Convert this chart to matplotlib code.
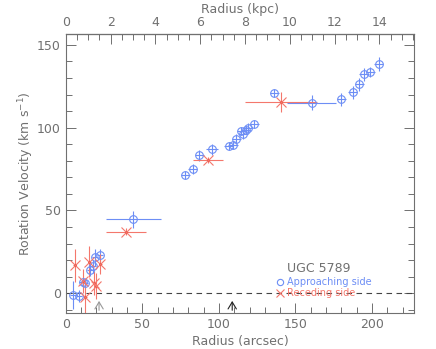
import numpy as np
import matplotlib.pyplot as plt
from matplotlib.ticker import MultipleLocator

# approaching side (blue circles)
r_app = [5.0, 8.7, 10.9, 12.4, 15.9, 17.8, 18.9, 22.2, 44.1,
         78.0, 83.0, 87.2, 95.3, 106.4, 109.2, 111.3, 114.6, 115.9, 117.4,
         118.9, 123.1, 136.3, 160.6, 180.1, 187.5, 191.6, 194.8, 198.8, 204.4]
v_app = [-1.2, -1.8, 6.8, 6.2, 14.3, 16.3, 21.6, 23.0, 44.6,
         71.6, 75.2, 83.3, 86.9, 89.1, 89.7, 93.3, 97.8, 96.0, 98.6,
         99.8, 102.2, 120.8, 115.1, 117.2, 121.4, 126.3, 132.3, 133.7, 138.5]
er_app = [2, 2, 2, 2, 2, 2, 2, 2, 18,
          3, 3, 3, 4, 3, 3, 3, 3, 3, 3,
          3, 3, 3, 16, 3, 3, 3, 3, 3, 3]
ev_app = [8.5, 3.5, 3, 3, 4, 4, 5, 4, 5,
          2.5, 3, 3.5, 3.5, 2.5, 2.5, 3, 2.5, 3, 2.5,
          3, 2.5, 2.5, 4.5, 4, 4, 4, 4, 3, 4.5]

# receding side (red crosses)
r_rec = [5.9, 10.9, 12.6, 15.2, 18.5, 19.6, 22.4, 39.1, 92.9, 140.5]
v_rec = [16.9, 7.4, -2.6, 19.0, 6.2, 4.2, 17.5, 37.1, 80.5, 115.3]
er_rec = [1, 1, 1, 1, 1, 1, 1, 13, 9.6, 23.4]
ev_rec = [10, 7, 10, 9.5, 7, 8, 6, 2, 2, 6]

# markers on the axis
arrow_r = [21.7, 108.7]
arrow_c = ['#999999', '#222222']

arcsec_per_kpc = 14.63
blue = '#6d8ef5'
red = '#f4776c'
grey = '#707070'

plt.rcParams['font.family'] = 'DejaVu Sans'
fig = plt.figure(figsize=(4.36, 3.49), dpi=100)
ax = fig.add_axes([0.151, 0.103, 0.799, 0.800])

ax.axhline(0, color='#444444', lw=0.8, ls=(0, (5, 4)))

ax.errorbar(r_app, v_app, xerr=er_app, yerr=ev_app, fmt='o', ms=5.5,
            mfc='none', mec=blue, mew=0.8, ecolor=blue, elinewidth=0.8,
            capsize=0)
ax.errorbar(r_rec, v_rec, xerr=er_rec, yerr=ev_rec, fmt='x', ms=7,
            mec=red, mew=0.8, ecolor=red, elinewidth=0.8, capsize=0)
ax.plot(r_rec, v_rec, '.', ms=2, color='#d83020')

for r, c in zip(arrow_r, arrow_c):
    ax.annotate('', xy=(r, -3), xytext=(r, -12),
                arrowprops=dict(arrowstyle='->,head_length=0.5,head_width=0.3',
                                color=c, lw=0.8))

ax.text(144.5, 15, 'UGC 5789', color=grey, fontsize=9, va='center')
ax.plot([139.6], [6.7], 'o', ms=4.5, mfc='none', mec=blue, mew=0.8)
ax.text(144.5, 6.7, 'Approaching side', color=blue, fontsize=7, va='center')
ax.plot([139.6], [0.3], 'x', ms=6, mec=red, mew=0.8)
ax.text(144.5, 0.3, 'Receding side', color=red, fontsize=7, va='center')

ax.set_xlim(0, 227.6)
ax.set_ylim(-12, 156.7)
ax.xaxis.set_major_locator(MultipleLocator(50))
ax.xaxis.set_minor_locator(MultipleLocator(10))
ax.yaxis.set_major_locator(MultipleLocator(50))
ax.yaxis.set_minor_locator(MultipleLocator(10))
ax.tick_params(which='both', direction='in', top=False, right=True,
               colors=grey, labelsize=9, width=0.7)
ax.tick_params(which='major', length=7)
ax.tick_params(which='minor', length=4)
for s in ax.spines.values():
    s.set_color(grey)
    s.set_linewidth(0.8)

ax.set_xlabel('Radius (arcsec)', color=grey, fontsize=9, labelpad=3)
ax.set_ylabel('Rotation Velocity (km s$^{-1}$)', color=grey, fontsize=9,
              labelpad=1)

top = ax.secondary_xaxis('top', functions=(lambda x: x / arcsec_per_kpc,
                                           lambda x: x * arcsec_per_kpc))
top.xaxis.set_major_locator(MultipleLocator(2))
top.xaxis.set_minor_locator(MultipleLocator(0.5))
top.tick_params(which='both', direction='in', colors=grey, labelsize=9,
                width=0.7)
top.tick_params(which='major', length=7)
top.tick_params(which='minor', length=4)
top.set_xlabel('Radius (kpc)', color=grey, fontsize=9, labelpad=2)

fig.savefig('out.png', dpi=100)
